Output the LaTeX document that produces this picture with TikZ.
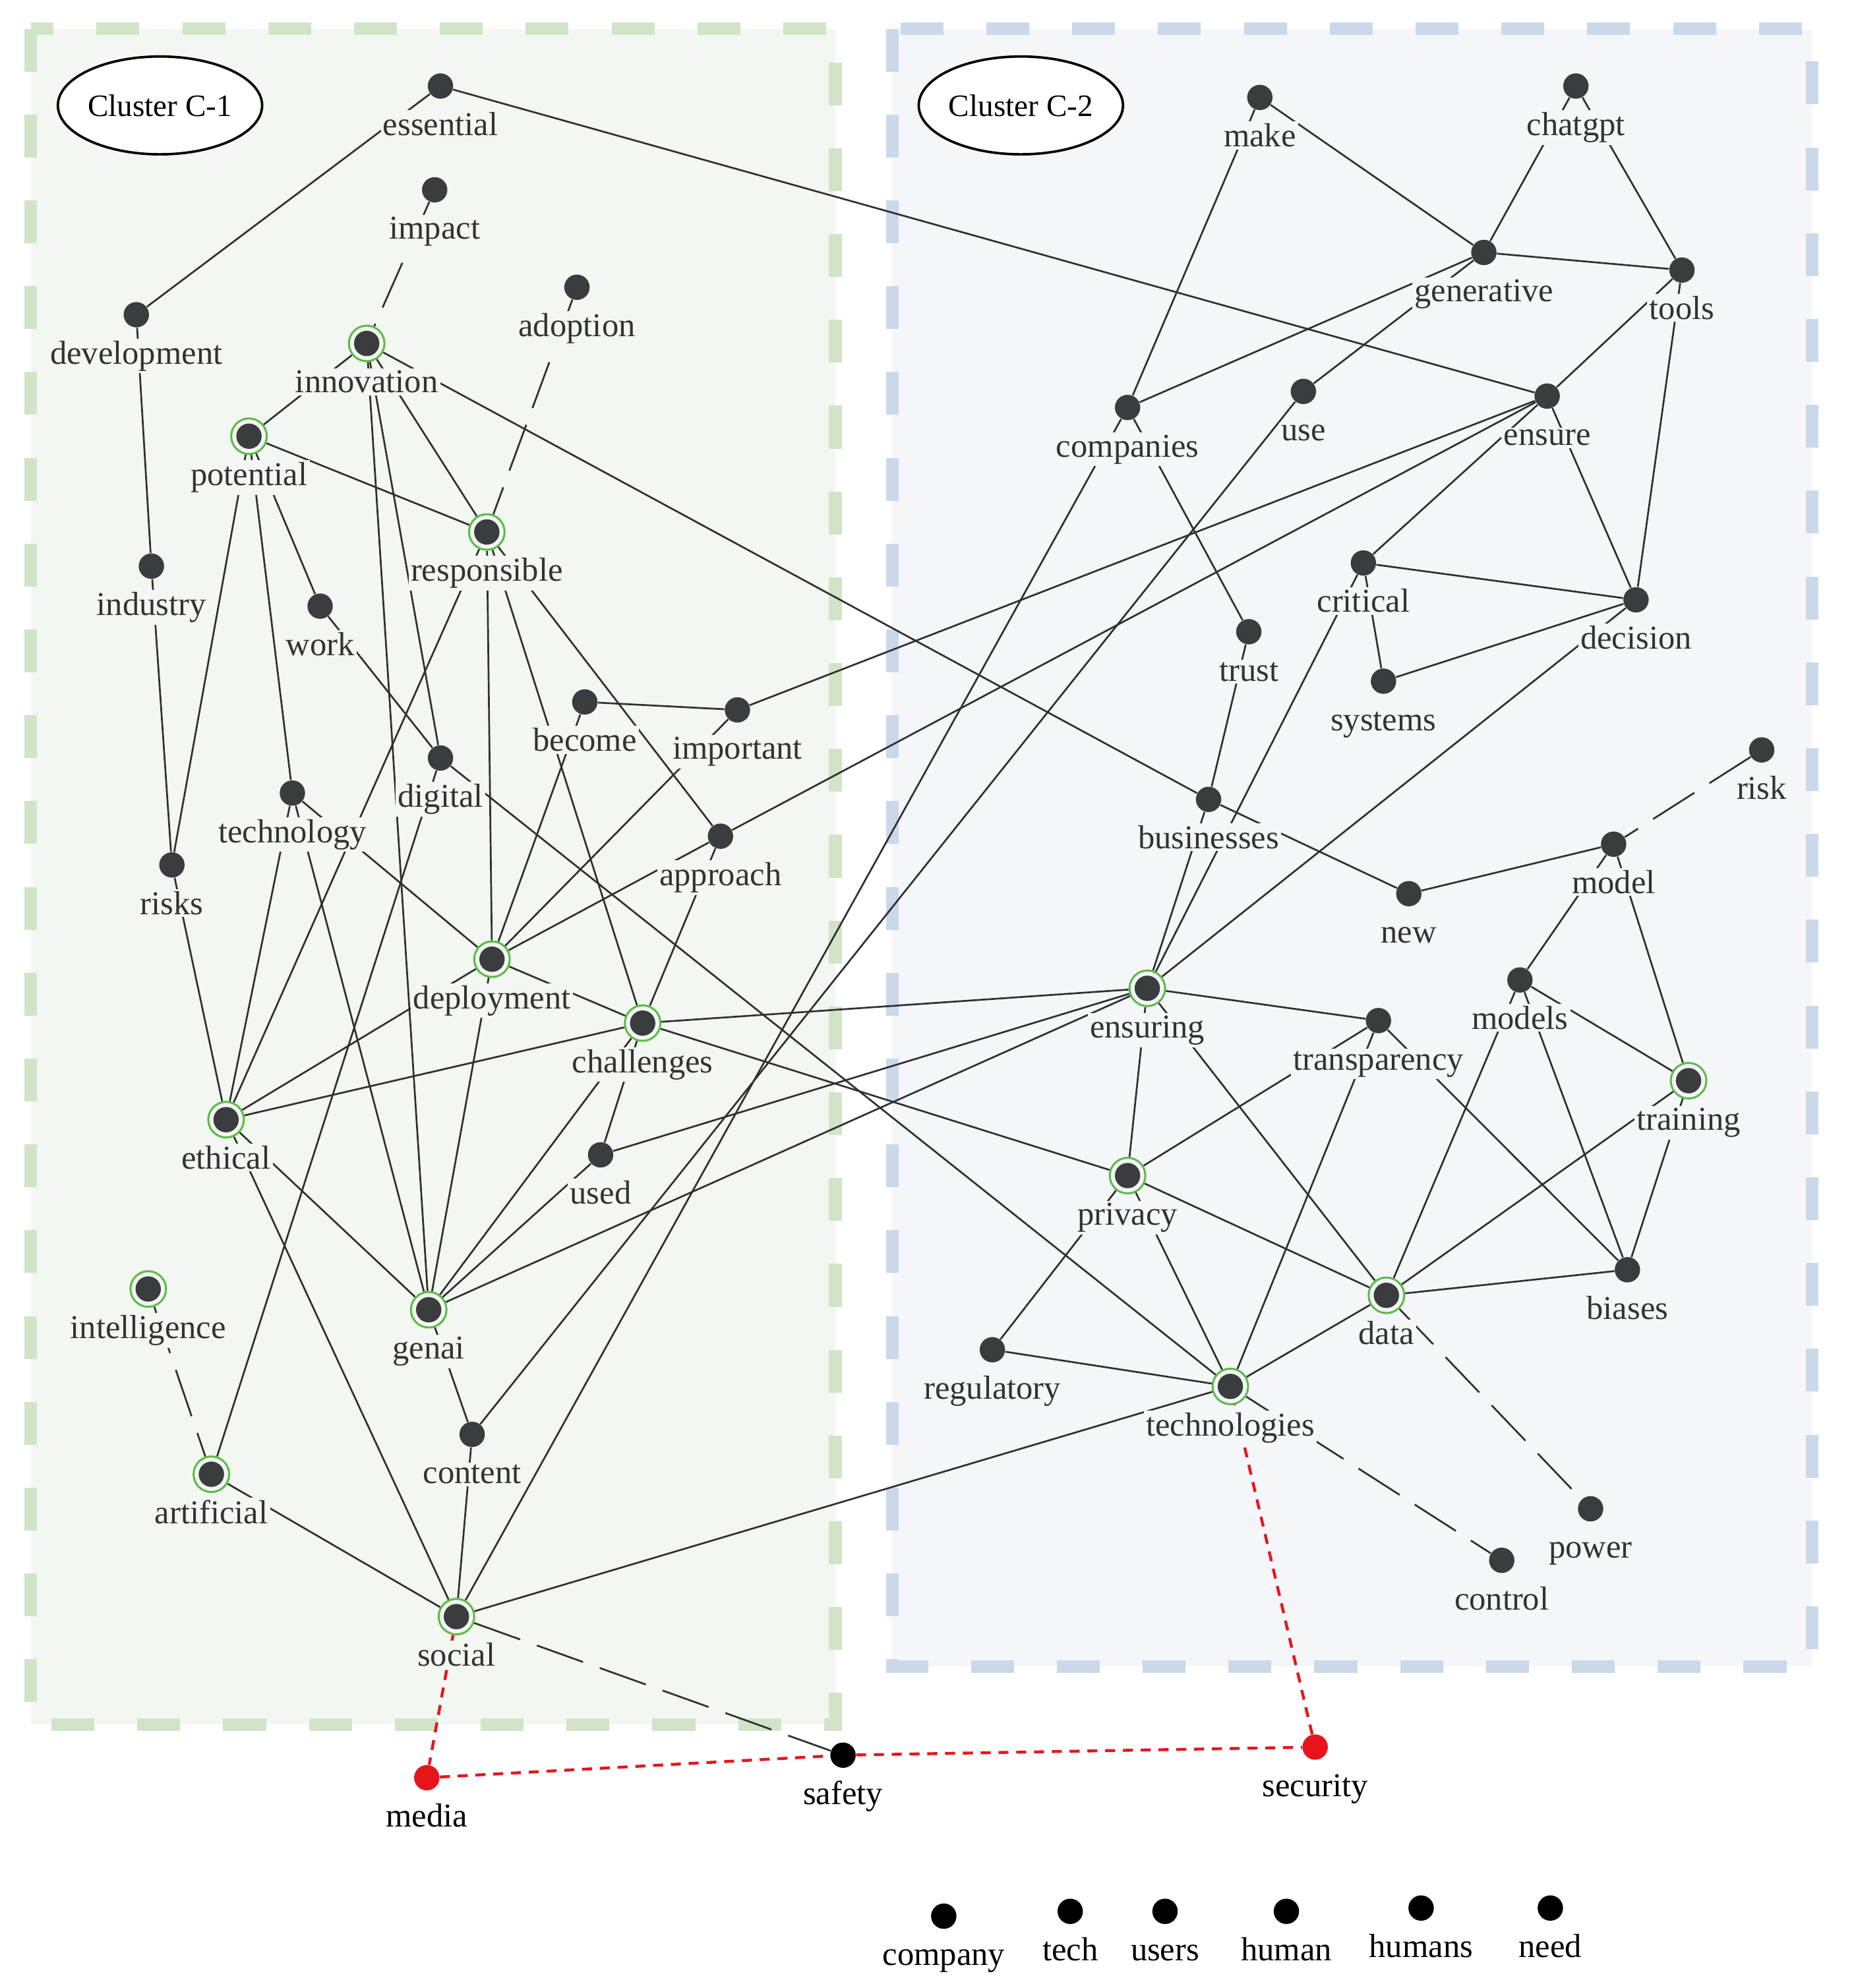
\documentclass[tikz,border=0pt]{standalone}
\usepackage{fontspec}
\setmainfont{Liberation Serif}
\newfontfamily\labfont{Liberation Serif}
\usetikzlibrary{shapes.geometric}
\definecolor{gfill}{HTML}{F2F7F1}
\definecolor{gline}{HTML}{D1E4C8}
\definecolor{bfill}{HTML}{F4F6FA}
\definecolor{bline}{HTML}{CAD8EA}
\definecolor{dotc}{HTML}{3A3C3F}
\definecolor{ringc}{HTML}{5DBB46}
\definecolor{edgec}{HTML}{303030}
\definecolor{labc}{HTML}{333333}
\definecolor{redc}{HTML}{E8141C}
\pgfdeclarelayer{bg}\pgfdeclarelayer{edges}\pgfsetlayers{bg,edges,main}
\tikzset{
  dot/.style={circle, fill=dotc, minimum size=11.4pt, inner sep=0pt},
  ringdot/.style={circle, draw=ringc, line width=0.9pt, minimum size=16pt, inner sep=0pt,
    path picture={\fill[dotc] (path picture bounding box.center) circle (5.7pt);}},
  blackdot/.style={dot, fill=black},
  reddot/.style={dot, fill=redc},
  lblg/.style={font={\labfont\fontsize{15}{18}\selectfont}, text=labc, fill=gfill, inner sep=1pt, anchor=base},
  lblb/.style={lblg, fill=bfill},
  lblw/.style={lblg, fill=white, text=black},
  edge/.style={draw=edgec, line width=0.8pt},
  weak/.style={edge, dash pattern=on 22pt off 8pt},
  reddash/.style={draw=redc, line width=1.3pt, dash pattern=on 4.5pt off 3.5pt},
  clusterlbl/.style={draw=black, ellipse, fill=white, line width=1.1pt, minimum width=90pt,
    minimum height=44pt, inner sep=0pt, font={\labfont\fontsize{14}{16}\selectfont}},
  boxg/.style={draw=gline, fill=gfill, line width=5.7pt, dash pattern=on 19.3pt off 19.3pt},
  boxb/.style={draw=bline, fill=bfill, line width=5.7pt, dash pattern=on 19.3pt off 19.3pt}
}
\newcommand\wnode[6]{\node[#5] (#1) at (#2,#3) {}; \node[#6] (#1-l) at (#2,#3+39) {#4};}
\begin{document}
\begin{tikzpicture}[x=0.02cm,y=-0.02cm]
\useasboundingbox (0,0) rectangle (1466,1571);
\begin{pgfonlayer}{bg}
\fill[white] (0,0) rectangle (1466,1571);
\path[boxg] (24.4,22.7) rectangle (660,1362.8);
\path[boxb] (705,22.7) rectangle (1431.5,1317);
\end{pgfonlayer}
\node[clusterlbl] (c1) at (126.4,83.3) {Cluster C-1};
\node[clusterlbl] (c2) at (806.5,83.3) {Cluster C-2};
% cluster 1
\wnode{essential}{348}{68}{essential}{dot}{lblg}
\wnode{impact}{343.4}{150}{impact}{dot}{lblg}
\wnode{development}{107.7}{248.7}{development}{dot}{lblg}
\wnode{adoption}{455.8}{227}{adoption}{dot}{lblg}
\wnode{innovation}{289.7}{271.4}{innovation}{ringdot}{lblg}
\wnode{potential}{196.7}{344.7}{potential}{ringdot}{lblg}
\wnode{responsible}{384.6}{420.4}{responsible}{ringdot}{lblg}
\wnode{industry}{119.6}{447.4}{industry}{dot}{lblg}
\wnode{work}{252.9}{479}{work}{dot}{lblg}
\wnode{become}{462}{554.7}{become}{dot}{lblg}
\wnode{important}{582.6}{561}{important}{dot}{lblg}
\wnode{digital}{348}{599}{digital}{dot}{lblg}
\wnode{technology}{231}{626.7}{technology}{dot}{lblg}
\wnode{approach}{569.2}{660.8}{approach}{dot}{lblg}
\wnode{risks}{135.8}{683.5}{risks}{dot}{lblg}
\wnode{deployment}{388.7}{758}{deployment}{ringdot}{lblg}
\wnode{challenges}{507.7}{808.5}{challenges}{ringdot}{lblg}
\wnode{ethical}{178.6}{884.8}{ethical}{ringdot}{lblg}
\wnode{used}{474.5}{912.6}{used}{dot}{lblg}
\wnode{intelligence}{117.1}{1018.6}{intelligence}{ringdot}{lblg}
\wnode{genai}{338.7}{1035}{genai}{ringdot}{lblg}
\wnode{content}{373}{1133.5}{content}{dot}{lblg}
\wnode{artificial}{167}{1165}{artificial}{ringdot}{lblg}
\wnode{social}{360.6}{1277.5}{social}{ringdot}{lblg}
% cluster 2
\wnode{make}{995.3}{77}{make}{dot}{lblb}
\wnode{chatgpt}{1245}{68}{chatgpt}{dot}{lblb}
\wnode{generative}{1172.3}{199.5}{generative}{dot}{lblb}
\wnode{tools}{1328.8}{213.4}{tools}{dot}{lblb}
\wnode{companies}{890.8}{322}{companies}{dot}{lblb}
\wnode{use}{1029.7}{309.3}{use}{dot}{lblb}
\wnode{ensure}{1222.3}{313}{ensure}{dot}{lblb}
\wnode{critical}{1077.1}{444.9}{critical}{dot}{lblb}
\wnode{decision}{1292.5}{474}{decision}{dot}{lblb}
\wnode{trust}{986.6}{499.2}{trust}{dot}{lblb}
\wnode{systems}{1093}{538.3}{systems}{dot}{lblb}
\wnode{risk}{1391.8}{592.6}{risk}{dot}{lblb}
\wnode{businesses}{954.8}{631.7}{businesses}{dot}{lblb}
\wnode{model}{1274.8}{667.1}{model}{dot}{lblb}
\wnode{new}{1113}{706.2}{new}{dot}{lblb}
\wnode{models}{1200.8}{774.4}{models}{dot}{lblb}
\wnode{ensuring}{906.4}{781}{ensuring}{ringdot}{lblb}
\wnode{transparency}{1089}{806.5}{transparency}{dot}{lblb}
\wnode{training}{1334}{854}{training}{ringdot}{lblb}
\wnode{privacy}{890.8}{929}{privacy}{ringdot}{lblb}
\wnode{data}{1095.3}{1023.6}{data}{ringdot}{lblb}
\wnode{biases}{1285.7}{1003.4}{biases}{dot}{lblb}
\wnode{regulatory}{784}{1066.6}{regulatory}{dot}{lblb}
\wnode{technologies}{972}{1095.6}{technologies}{ringdot}{lblb}
\wnode{power}{1256.6}{1192.3}{power}{dot}{lblb}
\wnode{control}{1186.4}{1233}{control}{dot}{lblb}
% outside
\wnode{media}{337.2}{1404.8}{media}{reddot}{lblw}
\wnode{safety}{666}{1387}{safety}{blackdot}{lblw}
\wnode{security}{1039}{1380.6}{security}{reddot}{lblw}
\wnode{company}{745.6}{1514.2}{company}{blackdot}{lblw}
\wnode{tech}{845.5}{1510.4}{tech}{blackdot}{lblw}
\wnode{users}{920.4}{1510.4}{users}{blackdot}{lblw}
\wnode{human}{1016.3}{1510.4}{human}{blackdot}{lblw}
\wnode{humans}{1122.7}{1507.8}{humans}{blackdot}{lblw}
\wnode{need}{1224.8}{1507.8}{need}{blackdot}{lblw}
\begin{pgfonlayer}{edges}
\foreach \a/\b in {essential/development, essential/ensure, development/industry, industry/risks,
  innovation/potential, innovation/responsible, innovation/businesses, innovation/digital, innovation/genai,
  potential/responsible, potential/work, potential/technology, potential/risks,
  responsible/ethical, responsible/deployment, responsible/challenges, responsible/approach,
  work/digital, digital/artificial, digital/technologies,
  technology/ethical, technology/genai, technology/deployment,
  become/important, become/deployment, important/ensure, important/deployment,
  approach/deployment, approach/ensure, approach/challenges,
  risks/ethical, deployment/ethical, deployment/genai, deployment/challenges,
  challenges/ethical, challenges/used, challenges/genai, challenges/ensuring, challenges/privacy,
  ethical/genai, ethical/social, used/genai, used/ensuring, genai/ensuring, genai/content,
  content/use, content/social, artificial/social, social/companies, social/technologies,
  make/generative, make/companies, chatgpt/generative, chatgpt/tools, generative/tools,
  generative/companies, generative/use, tools/ensure, tools/decision, companies/trust,
  ensure/critical, ensure/decision, critical/decision, critical/systems, critical/ensuring,
  systems/decision, decision/ensuring, trust/businesses, businesses/new, businesses/ensuring,
  new/model, model/models, model/training, models/training, models/biases, models/data,
  training/data, training/biases, transparency/ensuring, transparency/privacy,
  transparency/technologies, transparency/biases, ensuring/privacy, ensuring/data,
  privacy/regulatory, privacy/technologies, privacy/data, regulatory/technologies,
  technologies/data, data/biases}
  \draw[edge] (\a) -- (\b);
\foreach \a/\b in {impact/innovation, adoption/responsible, intelligence/artificial, risk/model,
  data/power, technologies/control, social/safety}
  \draw[weak] (\a) -- (\b);
\foreach \a/\b in {social/media, media/safety, safety/security, security/technologies}
  \draw[reddash] (\a) -- (\b);
\end{pgfonlayer}
\end{tikzpicture}
\end{document}
